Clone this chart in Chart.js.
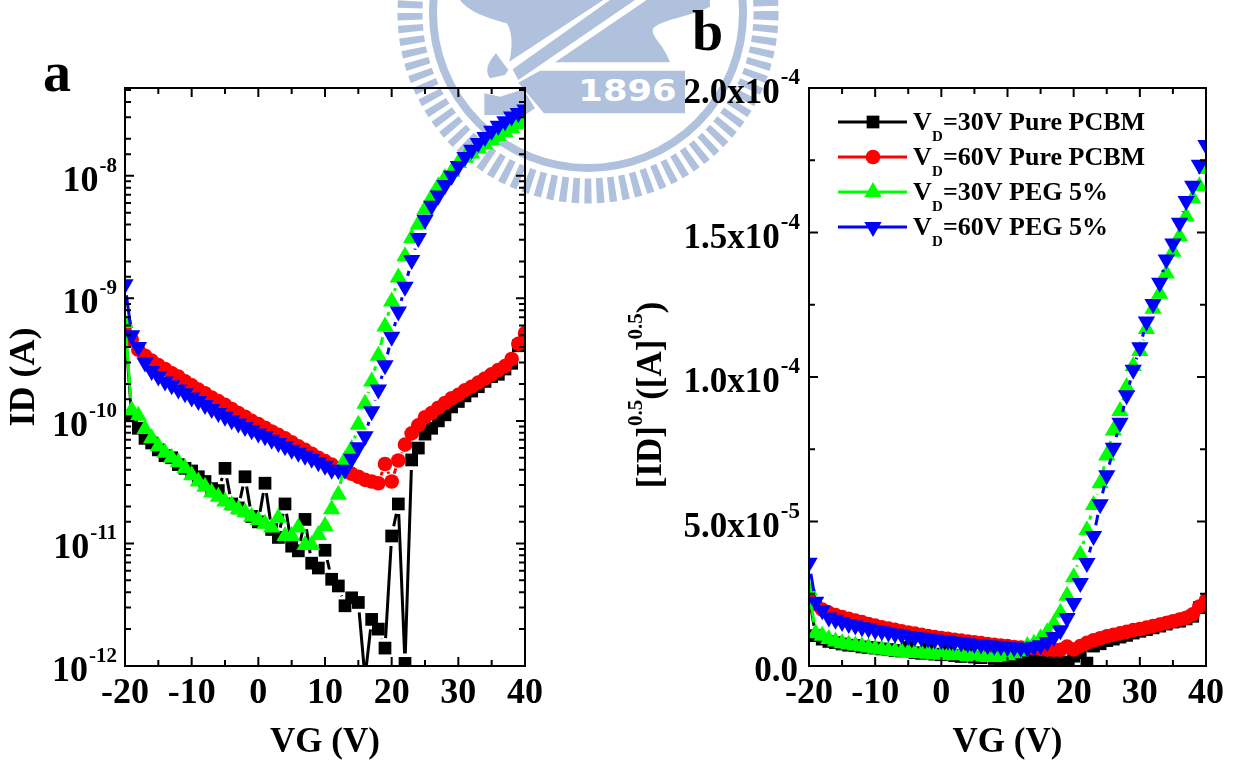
<!DOCTYPE html>
<html>
<head>
<meta charset="utf-8">
<style>
	html, body { margin: 0; padding: 0; background: #fff; }
	#page { position: relative; width: 1234px; height: 760px; overflow: hidden; }
	#seal, canvas { position: absolute; top: 0; }
	#seal { left: 0; }
	#chartA { left: 0; }
	#chartB { left: 600px; }
</style>
<script src="https://cdn.jsdelivr.net/npm/chart.js@4/dist/chart.umd.min.js"></script>
</head>
<body>
<div id="page">
	<svg id="seal" width="1234" height="760" fill="#b0c1de">
		<g fill="none" stroke="#b0c1de">
			<circle cx="588" cy="13" r="178" stroke-width="25" stroke-dasharray="7 5"></circle>
			<circle cx="588" cy="13" r="155" stroke-width="8"></circle>
		</g>
		<g transform="translate(390,0) scale(0.3333)">
			<path d="M210 0C240 40 300 55 350 70C365 90 370 130 358 185L640 0Z"></path>
			<path d="M368 208L660 0L735 0L385 240Z"></path>
			<path d="M770 0L495 187L840 187C820 130 780 110 790 85C810 60 900 50 960 20L960 0Z"></path>
			<path d="M318 160C290 190 285 215 300 235L345 225L355 210Z"></path>
			<path d="M283 280L330 290L400 268L435 325L405 345L283 345Z"></path>
			<path d="M450 212L885 212L885 340L462 340L385 248Z"></path>
			<text x="565" y="304" fill="#fff" font-family="DejaVu Sans" font-weight="bold" font-size="88" textLength="295" lengthAdjust="spacingAndGlyphs">1896</text>
		</g>
	</svg>
	<canvas id="chartA" width="620" height="760"></canvas>
	<canvas id="chartB" width="634" height="760"></canvas>
</div>
<script>
// gate voltage, same sweep for all curves
const volts = [-20,-19,-18,-17,-16,-15,-14,-13,-12,-11,-10,-9,-8,-7,-6,-5,-4,-3,-2,-1,0,1,2,3,4,5,6,7,8,9,10,11,12,13,14,15,16,17,18,19,20,21,22,23,24,25,26,27,28,29,30,31,32,33,34,35,36,37,38,39,40];

// panel a, ID (A)
const idPure30 = [5.9e-10,1.1e-10,8.7e-11,7.2e-11,6.6e-11,5.8e-11,5.2e-11,5.0e-11,4.4e-11,4.1e-11,3.9e-11,3.5e-11,3.2e-11,2.8e-11,2.7e-11,4.1e-11,2.1e-11,1.95e-11,3.5e-11,1.66e-11,1.5e-11,3.1e-11,1.3e-11,1.12e-11,2.1e-11,9.5e-12,8.7e-12,1.57e-11,6.9e-12,6.3e-12,8.8e-12,5.1e-12,4.5e-12,3.1e-12,3.6e-12,3.3e-12,8e-13,2.4e-12,2.0e-12,1.4e-12,1.15e-11,2.1e-11,1.05e-12,4.8e-11,6.0e-11,7.8e-11,8.7e-11,1.0e-10,1.12e-10,1.3e-10,1.44e-10,1.6e-10,1.75e-10,1.9e-10,2.1e-10,2.3e-10,2.4e-10,2.65e-10,2.95e-10,4.1e-10,4.6e-10];
const idPure60 = [6.0e-10,4.6e-10,3.8e-10,3.4e-10,3.1e-10,2.85e-10,2.65e-10,2.45e-10,2.3e-10,2.1e-10,1.95e-10,1.8e-10,1.68e-10,1.55e-10,1.45e-10,1.35e-10,1.25e-10,1.16e-10,1.08e-10,1.0e-10,9.4e-11,8.8e-11,8.2e-11,7.7e-11,7.2e-11,6.7e-11,6.2e-11,5.8e-11,5.4e-11,5.0e-11,4.7e-11,4.4e-11,4.1e-11,3.9e-11,3.7e-11,3.5e-11,3.3e-11,3.2e-11,3.1e-11,4.45e-11,3.2e-11,4.75e-11,6.4e-11,7.9e-11,9.2e-11,1.07e-10,1.16e-10,1.28e-10,1.4e-10,1.53e-10,1.63e-10,1.78e-10,1.9e-10,2.05e-10,2.22e-10,2.4e-10,2.6e-10,2.8e-10,3.2e-10,4.25e-10,5.2e-10];
const idPeg30 = [6.3e-10,1.22e-10,1.1e-10,8.6e-11,7.2e-11,6.2e-11,5.5e-11,5.0e-11,4.6e-11,4.1e-11,3.6e-11,3.2e-11,2.9e-11,2.6e-11,2.4e-11,2.2e-11,2.05e-11,1.9e-11,1.8e-11,1.65e-11,1.55e-11,1.45e-11,1.35e-11,1.62e-11,1.15e-11,1.15e-11,1.35e-11,9.7e-12,9.7e-12,1.17e-11,1.39e-11,1.9e-11,2.5e-11,4.8e-11,5.9e-11,9.3e-11,1.38e-10,2.1e-10,3.4e-10,5.9e-10,9.4e-10,1.48e-9,2.2e-9,3.1e-9,4.0e-9,5.3e-9,6.65e-9,8.2e-9,9.6e-9,1.08e-8,1.27e-8,1.4e-8,1.52e-8,1.67e-8,1.8e-8,1.95e-8,2.1e-8,2.28e-8,2.45e-8,2.65e-8,2.78e-8];
const idPeg60 = [1.3e-9,5.0e-10,4.0e-10,3.0e-10,2.55e-10,2.3e-10,2.1e-10,1.95e-10,1.8e-10,1.68e-10,1.55e-10,1.45e-10,1.35e-10,1.25e-10,1.16e-10,1.08e-10,1.01e-10,9.5e-11,8.9e-11,8.4e-11,7.9e-11,7.5e-11,7.0e-11,6.6e-11,6.2e-11,5.8e-11,5.5e-11,5.2e-11,4.9e-11,4.6e-11,4.3e-11,4.0e-11,3.98e-11,4.0e-11,4.9e-11,6.1e-11,7.5e-11,1.2e-10,1.8e-10,2.85e-10,4.85e-10,7.8e-10,1.245e-9,2.05e-9,3.1e-9,4.37e-9,5.7e-9,6.9e-9,8.4e-9,1.0e-8,1.2e-8,1.42e-8,1.63e-8,1.85e-8,2.07e-8,2.33e-8,2.56e-8,2.78e-8,3.05e-8,3.25e-8,3.47e-8];

// panel b, [ID]^0.5
const rootPure30 = [2.43e-5,1.05e-5,9.3e-6,8.5e-6,8.1e-6,7.6e-6,7.2e-6,7.1e-6,6.6e-6,6.4e-6,6.2e-6,5.9e-6,5.7e-6,5.3e-6,5.2e-6,6.4e-6,4.6e-6,4.4e-6,5.9e-6,4.1e-6,3.9e-6,5.6e-6,3.6e-6,3.3e-6,4.6e-6,3.1e-6,2.9e-6,4.0e-6,2.6e-6,2.5e-6,3.0e-6,2.3e-6,2.1e-6,1.8e-6,1.9e-6,1.8e-6,0.9e-6,1.5e-6,1.4e-6,1.2e-6,3.4e-6,4.6e-6,1.0e-6,6.9e-6,7.7e-6,8.8e-6,9.3e-6,1.0e-5,1.06e-5,1.14e-5,1.2e-5,1.26e-5,1.32e-5,1.38e-5,1.45e-5,1.52e-5,1.55e-5,1.63e-5,1.72e-5,2.02e-5,2.14e-5];
const rootPure60 = [2.45e-5,2.14e-5,1.95e-5,1.84e-5,1.76e-5,1.69e-5,1.63e-5,1.57e-5,1.52e-5,1.45e-5,1.4e-5,1.34e-5,1.3e-5,1.25e-5,1.2e-5,1.16e-5,1.12e-5,1.08e-5,1.04e-5,1.0e-5,9.7e-6,9.4e-6,9.1e-6,8.8e-6,8.5e-6,8.2e-6,7.9e-6,7.6e-6,7.3e-6,7.1e-6,6.9e-6,6.6e-6,6.4e-6,6.2e-6,6.1e-6,5.9e-6,5.7e-6,5.6e-6,5.6e-6,6.7e-6,5.7e-6,6.9e-6,8.0e-6,8.9e-6,9.6e-6,1.03e-5,1.08e-5,1.13e-5,1.18e-5,1.24e-5,1.28e-5,1.33e-5,1.38e-5,1.43e-5,1.49e-5,1.55e-5,1.61e-5,1.67e-5,1.79e-5,2.06e-5,2.28e-5];
const rootPeg30 = [2.63e-5,1.13e-5,1.05e-5,9.3e-6,8.5e-6,7.9e-6,7.4e-6,7.1e-6,6.8e-6,6.4e-6,6.0e-6,5.7e-6,5.4e-6,5.1e-6,4.9e-6,4.7e-6,4.5e-6,4.4e-6,4.2e-6,4.1e-6,3.9e-6,3.8e-6,3.7e-6,4.0e-6,3.4e-6,3.4e-6,3.7e-6,3.1e-6,3.1e-6,3.4e-6,3.7e-6,4.4e-6,5.0e-6,6.9e-6,7.7e-6,9.6e-6,1.17e-5,1.45e-5,1.84e-5,2.43e-5,3.07e-5,3.85e-5,4.7e-5,5.57e-5,6.32e-5,7.28e-5,8.15e-5,8.82e-5,9.65e-5,1.038e-4,1.09e-4,1.166e-4,1.236e-4,1.288e-4,1.358e-4,1.433e-4,1.486e-4,1.555e-4,1.618e-4,1.66e-4,1.72e-4];
const rootPeg60 = [3.57e-5,2.22e-5,1.93e-5,1.68e-5,1.6e-5,1.52e-5,1.45e-5,1.4e-5,1.34e-5,1.3e-5,1.24e-5,1.2e-5,1.16e-5,1.12e-5,1.08e-5,1.04e-5,1.0e-5,9.8e-6,9.5e-6,9.2e-6,8.9e-6,8.7e-6,8.4e-6,8.1e-6,7.9e-6,7.6e-6,7.4e-6,7.2e-6,7.0e-6,6.8e-6,6.6e-6,6.4e-6,6.3e-6,6.2e-6,6.7e-6,7.2e-6,8.3e-6,1.0e-5,1.24e-5,1.66e-5,2.18e-5,2.87e-5,3.56e-5,4.5e-5,5.6e-5,6.6e-5,7.55e-5,8.42e-5,9.37e-5,1.025e-4,1.103e-4,1.192e-4,1.253e-4,1.326e-4,1.407e-4,1.462e-4,1.534e-4,1.609e-4,1.662e-4,1.734e-4,1.803e-4];

// tick labels
const logTicks = [1e-12,1e-11,1e-10,1e-9,1e-8];
const logExps = ['-12','-11','-10','-9','-8'];
const linTicks = [0,5e-5,1e-4,1.5e-4,2e-4];
const linBases = ['0.0','5.0x10','1.0x10','1.5x10','2.0x10'];
const linExps = ['','-5','-4','-4','-4'];
const legendLabels = ['=30V Pure PCBM','=60V Pure PCBM','=30V PEG 5%','=60V PEG 5%'];

const SERIF = '"Liberation Serif", "Times New Roman", serif';
Chart.defaults.font.family = SERIF;
Chart.defaults.color = '#000';

function serif(size) { return 'bold ' + size + 'px ' + SERIF; }

function makeSets(rows) {
	const looks = [
		{ color: '#000000', style: 'rect', r: 9, rot: 0, order: 3 },
		{ color: '#ff0000', style: 'circle', r: 7.3, rot: 0, order: 2 },
		{ color: '#00ff00', style: 'triangle', r: 10, rot: 0, order: 1 },
		{ color: '#0000ff', style: 'triangle', r: 10, rot: 180, order: 0 }
	];
	return rows.map(function (row, i) {
		return {
			label: legendLabels[i],
			data: row.map(function (y, k) { return { x: volts[k], y: y }; }),
			showLine: false,
			borderColor: looks[i].color,
			backgroundColor: looks[i].color,
			pointStyle: looks[i].style,
			pointRadius: looks[i].r,
			pointRotation: looks[i].rot,
			pointBackgroundColor: looks[i].color,
			pointBorderWidth: 0,
			order: looks[i].order
		};
	});
}

// the curves leave a small gap round each symbol, which the stock line cannot do
const gappedLine = {
	id: 'gappedLine',
	beforeDatasetDraw: function (chart, args) {
		const ctx = chart.ctx, a = chart.chartArea, pts = args.meta.data;
		const ds = chart.data.datasets[args.index];
		const gap = ds.pointRadius + 1;
		ctx.save();
		ctx.beginPath();
		ctx.rect(a.left, a.top, a.right - a.left, a.bottom - a.top);
		ctx.clip();
		ctx.strokeStyle = ds.borderColor;
		ctx.lineWidth = 3;
		ctx.beginPath();
		for (let i = 1; i < pts.length; i++) {
			const dx = pts[i].x - pts[i - 1].x, dy = pts[i].y - pts[i - 1].y;
			const len = Math.sqrt(dx * dx + dy * dy);
			if (len <= gap * 2) continue;
			const t = gap / len;
			ctx.moveTo(pts[i - 1].x + dx * t, pts[i - 1].y + dy * t);
			ctx.lineTo(pts[i].x - dx * t, pts[i].y - dy * t);
		}
		ctx.stroke();
		ctx.restore();
	}
};

// box with inward ticks on all four sides, plus the labels Chart.js cannot superscript
const paperAxes = {
	id: 'paperAxes',
	afterDraw: function (chart, args, opts) {
		const ctx = chart.ctx, a = chart.chartArea, xs = chart.scales.x, ys = chart.scales.y;
		ctx.save();
		ctx.strokeStyle = '#000';
		ctx.lineWidth = 2;
		ctx.strokeRect(a.left, a.top, a.right - a.left, a.bottom - a.top);
		ctx.beginPath();
		xs.ticks.forEach(function (t) {
			const px = xs.getPixelForValue(t.value), len = t.value % 10 === 0 ? 9 : 6;
			ctx.moveTo(px, a.bottom); ctx.lineTo(px, a.bottom - len);
			ctx.moveTo(px, a.top); ctx.lineTo(px, a.top + len);
		});
		ys.ticks.forEach(function (t) {
			if (t.value >= ys.max) return;
			const py = ys.getPixelForValue(t.value);
			const big = opts.isMajor(t.value), len = big ? 9 : 6;
			ctx.moveTo(a.left, py); ctx.lineTo(a.left + len, py);
			ctx.moveTo(a.right, py); ctx.lineTo(a.right - len, py);
		});
		ctx.stroke();

		ctx.fillStyle = '#000';
		ctx.textBaseline = 'alphabetic';
		opts.yValues.forEach(function (v, i) {
			const py = ys.getPixelForValue(v) + opts.labelDrop;
			ctx.textAlign = 'right';
			ctx.font = serif(opts.expSize);
			const ew = ctx.measureText(opts.yExps[i]).width;
			if (opts.yExps[i]) ctx.fillText(opts.yExps[i], opts.labelRight, py - 19);
			ctx.font = serif(opts.baseSize);
			ctx.fillText(opts.yBases[i], opts.labelRight - ew - 1 + (opts.yExps[i] ? 0 : -1), py);
		});

		ctx.textAlign = 'left';
		ctx.font = serif(56);
		ctx.fillText(opts.letter, opts.letterX, opts.letterY);
		ctx.restore();
		if (opts.after) opts.after(chart);
	}
};

function drawLegend(chart) {
	const ctx = chart.ctx;
	const rowY = [122, 157, 192, 227];
	ctx.save();
	chart.data.datasets.forEach(function (ds, i) {
		ctx.strokeStyle = ds.borderColor;
		ctx.fillStyle = ds.borderColor;
		ctx.lineWidth = 3;
		ctx.beginPath();
		ctx.moveTo(238, rowY[i]); ctx.lineTo(307, rowY[i]);
		ctx.stroke();
		Chart.helpers.drawPoint(ctx, { pointStyle: ds.pointStyle, radius: ds.pointRadius, rotation: ds.pointRotation, borderWidth: 0 }, 273, rowY[i]);
		ctx.fillStyle = '#000';
		ctx.textAlign = 'left';
		ctx.textBaseline = 'alphabetic';
		ctx.font = serif(26);
		ctx.fillText('V', 313, rowY[i] + 8);
		ctx.fillText(ds.label, 343, rowY[i] + 8);
		ctx.font = serif(15);
		ctx.fillText('D', 332, rowY[i] + 19);
	});
	// rotated y title with its superscripts
	ctx.translate(52, 395);
	ctx.rotate(-Math.PI / 2);
	ctx.textAlign = 'left';
	const parts = [['[ID]', 0], ['0.5', 1], ['([A]', 0], ['0.5', 1], [')', 0]];
	let total = 0;
	parts.forEach(function (p) {
		ctx.font = serif(p[1] ? 21 : 35);
		total += ctx.measureText(p[0]).width;
	});
	let at = -total / 2;
	parts.forEach(function (p) {
		ctx.font = serif(p[1] ? 21 : 35);
		ctx.fillText(p[0], at, p[1] ? -10 : 9);
		at += ctx.measureText(p[0]).width;
	});
	ctx.restore();
}

function makeChart(id, rows, padRight, leftWidth, yConfig, paperOpts) {
	const cfg = {
		type: 'line',
		data: { datasets: makeSets(rows) },
		options: {
			responsive: false,
			animation: false,
			layout: { padding: { top: 88, right: padRight, left: 0, bottom: 0 } },
			plugins: {
				legend: { display: false },
				tooltip: { enabled: false },
				paperAxes: paperOpts
			},
			scales: {
				x: {
					type: 'linear',
					min: -20,
					max: 40,
					grid: { display: false, drawTicks: false },
					border: { display: false },
					ticks: {
						stepSize: 5,
						autoSkip: false,
						maxRotation: 0,
						padding: 6,
						font: { size: 36, weight: 'bold' },
						callback: function (v) { return v % 10 === 0 ? String(v) : ''; }
					},
					title: { display: true, text: 'VG (V)', font: { size: 35, weight: 'bold' }, padding: { top: 0, bottom: -4 } },
					afterFit: function (s) { s.height = 94; }
				},
				y: Object.assign({
					grid: { display: false, drawTicks: false },
					border: { display: false },
					afterFit: function (s) { s.width = leftWidth; }
				}, yConfig)
			}
		},
		plugins: [gappedLine, paperAxes]
	};
	return new Chart(document.getElementById(id).getContext('2d'), cfg);
}

makeChart('chartA', [idPure30, idPure60, idPeg30, idPeg60], 95, 125, {
	type: 'logarithmic',
	min: 1e-12,
	max: 5.2e-8,
	ticks: { autoSkip: false, callback: function () { return ''; } },
	title: { display: true, text: 'ID (A)', font: { size: 36, weight: 'bold' }, padding: { top: 3, bottom: 0 } }
}, {
	isMajor: function (v) { return Math.abs(Math.log10(v) - Math.round(Math.log10(v))) < 0.001; },
	yValues: logTicks, yBases: ['10','10','10','10','10'], yExps: logExps,
	labelRight: 117, labelDrop: 15, expSize: 21, baseSize: 36,
	letter: 'a', letterX: 43, letterY: 91
});

makeChart('chartB', [rootPure30, rootPure60, rootPeg30, rootPeg60], 28, 209, {
	min: 0,
	max: 2e-4,
	ticks: { stepSize: 2.5e-5, autoSkip: false, callback: function () { return ''; } }
}, {
	isMajor: function (v) { return Math.abs(v / 5e-5 - Math.round(v / 5e-5)) < 0.001; },
	yValues: linTicks, yBases: linBases, yExps: linExps,
	labelRight: 200, labelDrop: 15, expSize: 23, baseSize: 35,
	letter: 'b', letterX: 92, letterY: 50,
	after: drawLegend
});
</script>
</body>
</html>
